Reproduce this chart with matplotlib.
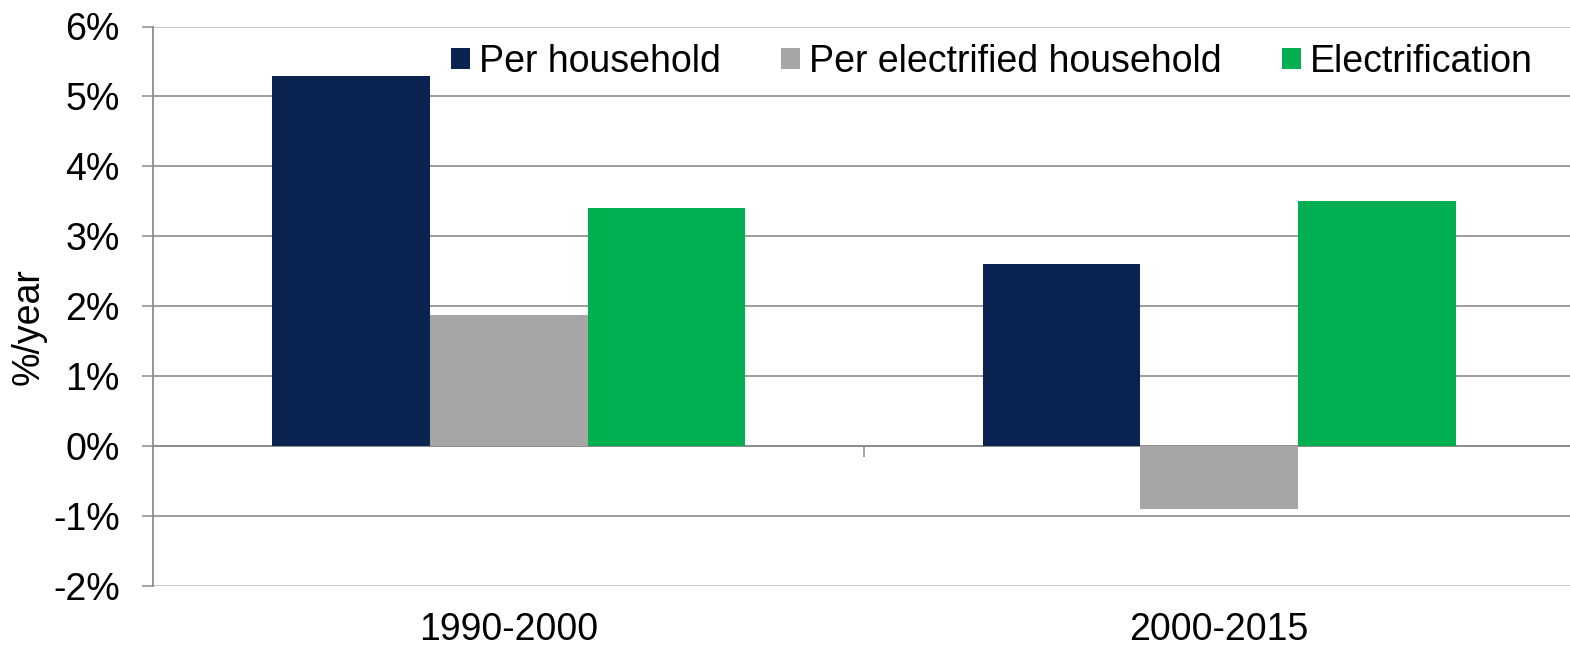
"""Household electricity consumption growth by period, split into its drivers."""

import matplotlib.pyplot as plt
import numpy as np
from matplotlib.ticker import FuncFormatter

plt.rcParams["font.family"] = ["Liberation Sans", "DejaVu Sans"]

periods = ["1990-2000", "2000-2015"]
series_names = ["Per household", "Per electrified household", "Electrification"]
per_household = [5.29, 2.61]
per_electrified = [1.88, -0.90]
electrification = [3.41, 3.50]
colors = ["#0b2351", "#a6a6a6", "#00af50"]

grid_color = "#8c8c8c"
fs = 27

fig = plt.figure(figsize=(15.7, 6.47), dpi=100)
ax = fig.add_axes([153 / 1570, 1 - 586 / 647, 1 - 153 / 1570, (586 - 26.5) / 647])

x = np.arange(len(periods))
width = 0.222
values = [per_household, per_electrified, electrification]
for i, (name, vals, col) in enumerate(zip(series_names, values, colors)):
    ax.bar(x + (i - 1) * width, vals, width, color=col, label=name, zorder=3)

ax.set_ylim(-2, 6)
ax.set_xlim(-0.501, 1.494)
ax.set_yticks(range(-2, 7))
ax.yaxis.set_major_formatter(FuncFormatter(lambda v, _: f"{v:.0f}%"))
ax.tick_params(axis="y", direction="out", length=8, width=1.1, color=grid_color,
               labelsize=fs, pad=16)
ax.yaxis.grid(True, color=grid_color, linewidth=1.2, zorder=0)
gl = ax.get_ygridlines()
gl[0].set_color("#c0c0c0")
gl[-1].set_color("#bdbdbd")
ax.set_ylabel("%/year", fontsize=fs)
ax.yaxis.set_label_coords(-0.075, 0.463)

# zero line with a divider tick between the two periods
ax.spines["bottom"].set_position(("data", 0))
ax.spines["bottom"].set_color(grid_color)
ax.spines["bottom"].set_linewidth(1.3)
ax.set_xticks([0.5])
ax.set_xticklabels([])
ax.tick_params(axis="x", direction="out", length=8, width=1.1, color=grid_color)
ax.spines["left"].set_color(grid_color)
ax.spines["left"].set_linewidth(1.3)
for side in ("top", "right"):
    ax.spines[side].set_visible(False)

# period labels under the bottom of the plot
sec = ax.secondary_xaxis(0)
sec.set_xticks(x)
sec.set_xticklabels(periods, fontsize=fs)
sec.tick_params(length=0, pad=19)
sec.spines["bottom"].set_visible(False)

fig.legend(loc="upper left", bbox_to_anchor=(451 / 1570, 1 - 44 / 647), ncol=3,
           frameon=False, fontsize=fs, handlelength=0.5, handleheight=0.5,
           handletextpad=0.25, columnspacing=1.6, borderpad=0, borderaxespad=0)

fig.savefig("out.png", dpi=100)
